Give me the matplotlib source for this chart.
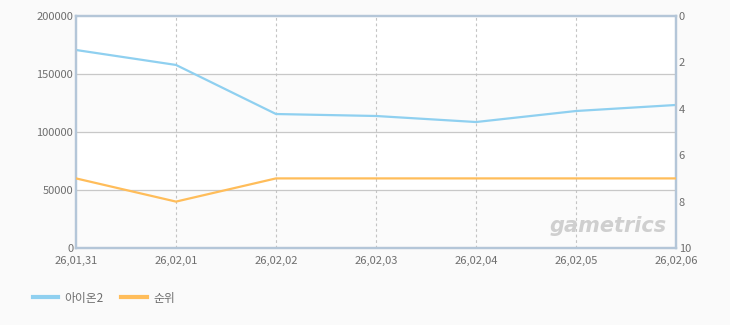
import numpy as np
import matplotlib.pyplot as plt
from matplotlib.lines import Line2D

plt.rcParams['font.family'] = ['Noto Sans CJK KR', 'DejaVu Sans']

dates = ['26,01,31', '26,02,01', '26,02,02', '26,02,03', '26,02,04', '26,02,05', '26,02,06']
users = [170700, 157800, 115500, 113800, 108600, 118100, 123300]
rank = [7, 8, 7, 7, 7, 7, 7]

blue = '#8fd0f0'
orange = '#ffbd5a'
frame = '#b4c6d8'
text_c = '#6e6e6e'

fig = plt.figure(figsize=(7.3, 3.25), dpi=100, facecolor='#fafafa')
ax = fig.add_axes([76/730, 77/325, 600/730, 232/325])
ax.set_facecolor('white')

x = np.arange(len(dates))
ax.set_xlim(0, len(dates) - 1)
ax.set_ylim(0, 200000)

# alternating bands
for lo in (0, 100000):
    ax.axhspan(lo, lo + 50000, color='#fbfbfb', zorder=0)
for yv in (50000, 100000, 150000):
    ax.axhline(yv, color='#c8c8c8', lw=0.9, zorder=1)
for xv in x[1:-1]:
    ax.axvline(xv, color='#c4c4c4', lw=0.8, ls=(0, (2.5, 2.5)), zorder=1)

ax.plot(x, users, color=blue, lw=1.6, zorder=3, solid_joinstyle='round')

ax2 = ax.twinx()
ax2.set_ylim(10, 0)
ax2.plot(x, rank, color=orange, lw=1.6, zorder=3, solid_joinstyle='round')

for a in (ax, ax2):
    for s in a.spines.values():
        s.set_color(frame)
        s.set_linewidth(1.6)
    a.tick_params(length=0, labelsize=8, colors=text_c, pad=2)
ax.tick_params(axis='x', pad=6)

ax.set_yticks([0, 50000, 100000, 150000, 200000])
ax.set_yticklabels(['0', '50000', '100000', '150000', '200000'])
ax.set_xticks(x)
ax.set_xticklabels(dates)
ax2.set_yticks([0, 2, 4, 6, 8, 10])

# watermark
ax.text(0.985, 0.05, 'gametrics', transform=ax.transAxes, ha='right', va='bottom',
        fontsize=15, fontweight='bold', style='italic', color='#cfcfcf',
        family='DejaVu Sans', zorder=2)

handles = [Line2D([], [], color=blue, lw=3), Line2D([], [], color=orange, lw=3)]
fig.legend(handles, ['아이온2', '순위'], loc='lower left', bbox_to_anchor=(0.03, 0.03),
           ncol=2, frameon=False, fontsize=8.5, labelcolor=text_c,
           handlelength=2.2, handletextpad=0.5, columnspacing=1.5)

fig.savefig('out.png', dpi=100, facecolor=fig.get_facecolor())
